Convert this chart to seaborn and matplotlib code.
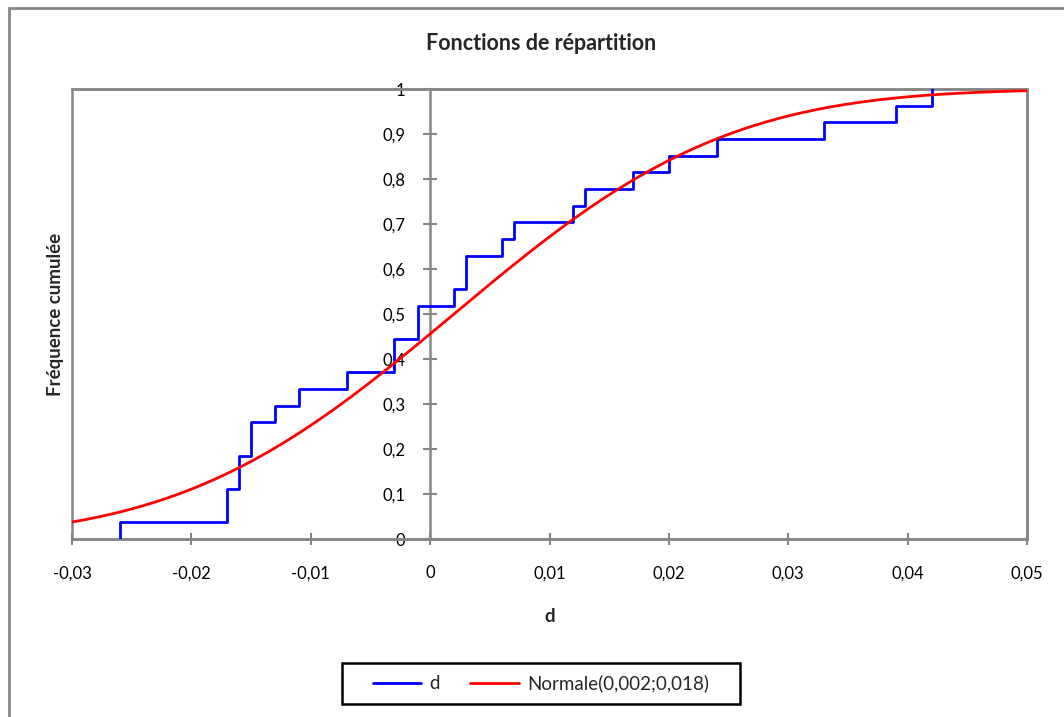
import numpy as np
import pandas as pd
import matplotlib
matplotlib.use("Agg")
import matplotlib.pyplot as plt
import seaborn as sns
from matplotlib.patches import Rectangle
from matplotlib.lines import Line2D
import math

# ---- data ----
d_values = [-0.026, -0.017, -0.017, -0.016, -0.016, -0.015, -0.015, -0.013,
            -0.011, -0.007, -0.003, -0.003, -0.001, -0.001, 0.002, 0.003,
            0.003, 0.006, 0.007, 0.012, 0.013, 0.017, 0.020, 0.024, 0.033,
            0.039, 0.042]
normal_mean = 0.002
normal_sd = 0.018
x_ticks = [-0.03, -0.02, -0.01, 0.0, 0.01, 0.02, 0.03, 0.04, 0.05]
x_tick_labels = ["-0,03", "-0,02", "-0,01", "0", "0,01", "0,02", "0,03", "0,04", "0,05"]
y_ticks = [0.0, 0.1, 0.2, 0.3, 0.4, 0.5, 0.6, 0.7, 0.8, 0.9, 1.0]
y_tick_labels = ["0", "0,1", "0,2", "0,3", "0,4", "0,5", "0,6", "0,7", "0,8", "0,9", "1"]
title = "Fonctions de répartition"
x_label = "d"
y_label = "Fréquence cumulée"
series_names = ["d", "Normale(0,002;0,018)"]

# ---- derived ----
n = len(d_values)
uniq = sorted(set(d_values))
cum = [sum(1 for v in d_values if v <= u) / n for u in uniq]
ecdf_df = pd.DataFrame({"x": [uniq[0]] + uniq, "y": [0.0] + cum})

xs = np.linspace(-0.03, 0.05, 400)
cdf = [0.5 * (1 + math.erf((x - normal_mean) / (normal_sd * math.sqrt(2)))) for x in xs]
norm_df = pd.DataFrame({"x": xs, "y": cdf})

sns.set_theme(style="white")
plt.rcParams['font.family'] = ['Lato', 'DejaVu Sans']

W, H = 1064, 717
fig = plt.figure(figsize=(W / 100, H / 100), dpi=100)
ax = fig.add_axes([72 / W, 1 - 539 / H, (1027 - 72) / W, (539 - 89) / H])

gray = "#868686"

sns.lineplot(data=ecdf_df, x="x", y="y", ax=ax, color="#0000FF", lw=2.0,
             drawstyle="steps-post", estimator=None, sort=False, zorder=4)
sns.lineplot(data=norm_df, x="x", y="y", ax=ax, color="#FF0000", lw=2.0,
             estimator=None, sort=False, zorder=5)

ax.set_xlim(-0.03, 0.05)
ax.set_ylim(0, 1)
ax.set_xticks(x_ticks)
ax.set_xticklabels(x_tick_labels)
ax.set_yticks(y_ticks)
ax.set_yticklabels(y_tick_labels)

for s in ["top", "right", "bottom", "left"]:
    ax.spines[s].set_color(gray)
    ax.spines[s].set_linewidth(1.8)
ax.spines["left"].set_position(("data", 0))
ax.add_patch(Rectangle((0, 0), 1, 1, transform=ax.transAxes, fill=False,
                       edgecolor=gray, lw=1.8, zorder=1, clip_on=False))

ax.tick_params(axis="x", direction="inout", length=8, width=1.5, color=gray,
               pad=15, labelsize=12, labelcolor="black")
ax.tick_params(axis="y", direction="inout", length=10, width=1.5, color=gray,
               pad=13, labelsize=12, labelcolor="black")
ax.tick_params(axis="y", left=True)
ax.tick_params(axis="x", bottom=True)
ax.set_xlabel("")
ax.set_ylabel("")

fig.text(541 / W, 1 - 43 / H, title, ha="center", va="center",
         fontsize=15.5, fontweight="bold")
fig.text(549.5 / W, 1 - 617 / H, x_label, ha="center", va="center",
         fontsize=13.5, fontweight="bold")
fig.text(56 / W, 1 - 314 / H, y_label, ha="center", va="center",
         rotation=90, fontsize=13.5, fontweight="bold")

# chart-area border
fig.add_artist(Rectangle((8.5 / W, -0.05), 1.2, 1 - 7.5 / H + 0.05,
                         transform=fig.transFigure, fill=False,
                         edgecolor=gray, lw=2.0))

# legend box
fig.add_artist(Rectangle((342 / W, 1 - 704 / H), (740 - 342) / W, (704 - 663) / H,
                         transform=fig.transFigure, fill=False,
                         edgecolor="black", lw=1.8))
handles = [Line2D([], [], color="#0000FF", lw=2.0),
           Line2D([], [], color="#FF0000", lw=2.0)]
leg = fig.legend(handles, series_names, ncol=2, loc="center",
                 bbox_to_anchor=(541 / W, 1 - 683.5 / H), frameon=False,
                 fontsize=13.5, handlelength=2.6, columnspacing=1.6,
                 borderpad=0.3, handletextpad=0.45)

fig.savefig("out.png", dpi=100)
